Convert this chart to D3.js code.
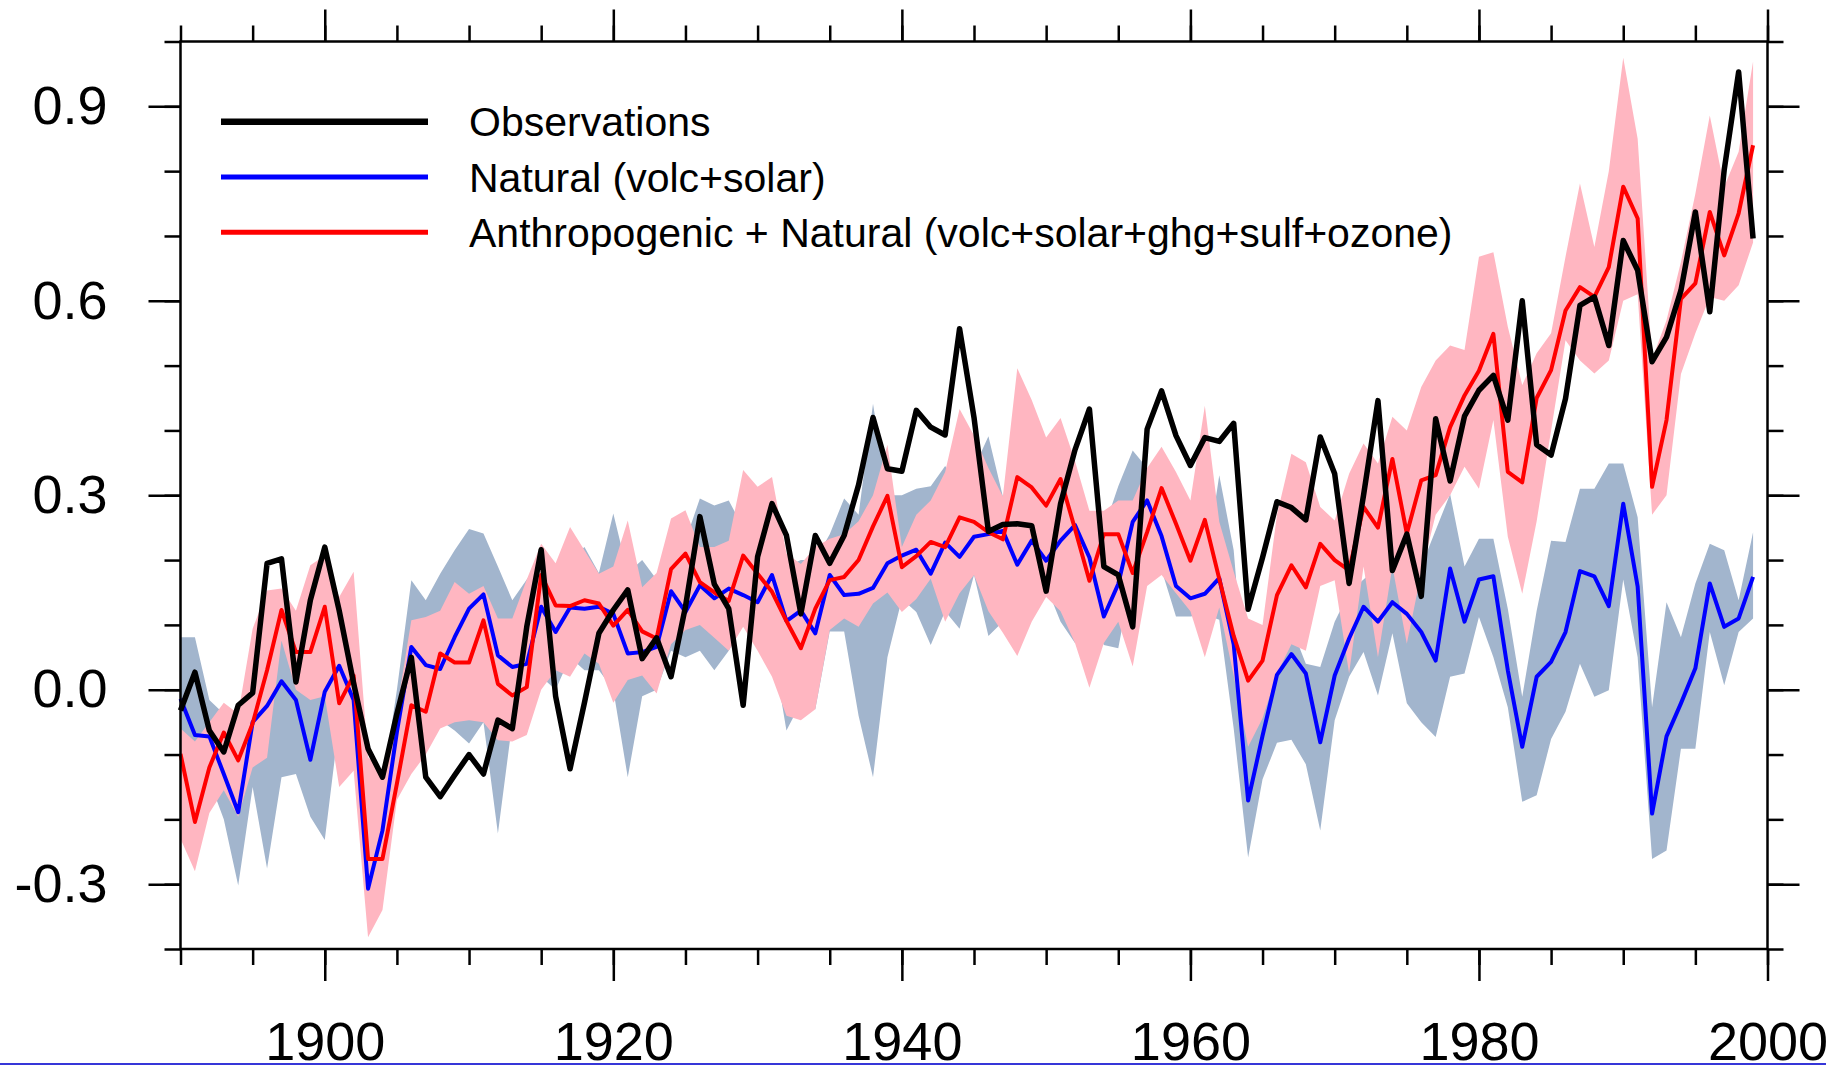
<!DOCTYPE html>
<html>
<head>
<meta charset="utf-8">
<script src="https://cdn.jsdelivr.net/npm/d3@7"></script>
<style>
  html, body { margin: 0; padding: 0; background: #fff; overflow: hidden; }
  svg { display: block; font-family: "Liberation Sans", Arial, Helvetica, sans-serif; }
</style>
</head>
<body>
<svg id="chart" width="1826" height="1065"></svg>
<script>
// annual global mean temperature anomalies, 1890-1999
var firstYear = 1890;

var obs = [
  -0.032, 0.027, -0.063, -0.096, -0.024, -0.005, 0.195, 0.202, 0.012, 0.138,
  0.220, 0.122, 0.010, -0.091, -0.135, -0.037, 0.050, -0.135, -0.165, -0.132,
  -0.100, -0.130, -0.047, -0.060, 0.097, 0.216, -0.010, -0.122, -0.020, 0.087,
  0.123, 0.154, 0.048, 0.080, 0.020, 0.128, 0.267, 0.163, 0.125, -0.024,
  0.205, 0.287, 0.238, 0.117, 0.238, 0.195, 0.238, 0.316, 0.420, 0.341,
  0.337, 0.431, 0.405, 0.393, 0.557, 0.420, 0.244, 0.255, 0.256, 0.253,
  0.152, 0.287, 0.370, 0.433, 0.190, 0.177, 0.097, 0.402, 0.461, 0.392,
  0.346, 0.389, 0.383, 0.411, 0.124, 0.204, 0.290, 0.281, 0.262, 0.390,
  0.333, 0.164, 0.300, 0.446, 0.184, 0.240, 0.144, 0.418, 0.322, 0.422,
  0.462, 0.485, 0.416, 0.600, 0.378, 0.362, 0.449, 0.593, 0.606, 0.531,
  0.693, 0.647, 0.506, 0.544, 0.616, 0.737, 0.583, 0.802, 0.953, 0.696
];

// natural forcing (volc+solar): ensemble mean and range
var natural = [
  -0.014, -0.070, -0.072, -0.130, -0.189, -0.050, -0.025, 0.013, -0.016, -0.108,
  -0.003, 0.037, -0.016, -0.307, -0.217, -0.065, 0.066, 0.038, 0.032, 0.081,
  0.125, 0.147, 0.053, 0.035, 0.040, 0.128, 0.089, 0.127, 0.125, 0.128,
  0.117, 0.056, 0.058, 0.066, 0.152, 0.120, 0.161, 0.141, 0.156, 0.146,
  0.135, 0.177, 0.106, 0.122, 0.087, 0.177, 0.146, 0.148, 0.157, 0.195,
  0.207, 0.216, 0.179, 0.227, 0.205, 0.236, 0.240, 0.245, 0.193, 0.230,
  0.199, 0.230, 0.254, 0.204, 0.113, 0.163, 0.259, 0.292, 0.237, 0.160,
  0.141, 0.148, 0.172, 0.070, -0.171, -0.071, 0.023, 0.055, 0.025, -0.081,
  0.022, 0.079, 0.128, 0.105, 0.135, 0.117, 0.089, 0.045, 0.187, 0.105,
  0.170, 0.175, 0.030, -0.088, 0.020, 0.043, 0.089, 0.183, 0.175, 0.129,
  0.287, 0.159, -0.191, -0.072, -0.021, 0.033, 0.164, 0.097, 0.110, 0.174
];
var natHi = [
  0.081, 0.081, -0.016, -0.037, -0.090, -0.020, 0.030, 0.076, 0.050, 0.000,
  0.050, 0.100, 0.050, -0.220, -0.150, 0.000, 0.169, 0.138, 0.179, 0.215,
  0.248, 0.241, 0.190, 0.138, 0.170, 0.200, 0.192, 0.200, 0.220, 0.180,
  0.272, 0.180, 0.200, 0.170, 0.200, 0.230, 0.295, 0.284, 0.292, 0.250,
  0.250, 0.230, 0.190, 0.200, 0.200, 0.240, 0.295, 0.270, 0.441, 0.300,
  0.300, 0.310, 0.314, 0.345, 0.314, 0.342, 0.391, 0.298, 0.336, 0.292,
  0.259, 0.292, 0.270, 0.259, 0.248, 0.314, 0.369, 0.342, 0.336, 0.259,
  0.215, 0.182, 0.331, 0.215, -0.050, 0.050, 0.060, 0.097, 0.040, 0.035,
  0.105, 0.150, 0.170, 0.190, 0.190, 0.190, 0.190, 0.246, 0.302, 0.190,
  0.233, 0.233, 0.125, -0.011, 0.122, 0.230, 0.228, 0.310, 0.310, 0.349,
  0.349, 0.266, -0.027, 0.135, 0.081, 0.164, 0.225, 0.215, 0.138, 0.243
];
var natLo = [
  -0.100, -0.120, -0.140, -0.200, -0.302, -0.150, -0.276, -0.135, -0.130, -0.196,
  -0.232, -0.050, -0.080, -0.320, -0.280, -0.140, -0.020, -0.058, -0.047, -0.063,
  -0.083, -0.050, -0.222, -0.050, -0.068, 0.020, 0.000, 0.050, 0.030, 0.030,
  0.000, -0.135, -0.010, 0.000, 0.060, 0.050, 0.060, 0.030, 0.060, 0.100,
  0.090, 0.070, -0.063, -0.020, -0.030, 0.090, 0.090, -0.040, -0.135, 0.050,
  0.140, 0.120, 0.069, 0.121, 0.094, 0.177, 0.083, 0.105, 0.127, 0.132,
  0.160, 0.105, 0.072, 0.116, 0.069, 0.064, 0.182, 0.179, 0.185, 0.113,
  0.113, 0.116, 0.108, -0.060, -0.259, -0.138, -0.082, -0.077, -0.115, -0.217,
  -0.047, 0.020, 0.058, -0.009, 0.087, -0.021, -0.050, -0.073, 0.020, 0.025,
  0.112, 0.050, -0.027, -0.173, -0.163, -0.076, -0.034, 0.040, -0.011, -0.001,
  0.170, 0.050, -0.261, -0.248, -0.091, -0.091, 0.089, 0.007, 0.089, 0.110
];

// anthropogenic + natural forcing: ensemble mean and range
var anthro = [
  -0.099, -0.204, -0.120, -0.066, -0.109, -0.052, 0.030, 0.123, 0.058, 0.058,
  0.128, -0.021, 0.022, -0.261, -0.261, -0.145, -0.024, -0.034, 0.056, 0.042,
  0.042, 0.107, 0.009, -0.009, 0.004, 0.177, 0.130, 0.129, 0.138, 0.133,
  0.099, 0.123, 0.090, 0.079, 0.186, 0.210, 0.166, 0.150, 0.137, 0.207,
  0.179, 0.151, 0.106, 0.064, 0.125, 0.169, 0.174, 0.200, 0.252, 0.299,
  0.189, 0.206, 0.228, 0.220, 0.266, 0.259, 0.243, 0.232, 0.328, 0.312,
  0.284, 0.325, 0.248, 0.168, 0.240, 0.240, 0.180, 0.243, 0.311, 0.256,
  0.199, 0.262, 0.171, 0.083, 0.014, 0.045, 0.146, 0.192, 0.158, 0.225,
  0.200, 0.184, 0.282, 0.250, 0.356, 0.241, 0.323, 0.331, 0.405, 0.454,
  0.492, 0.549, 0.336, 0.320, 0.450, 0.493, 0.585, 0.621, 0.606, 0.652,
  0.776, 0.727, 0.313, 0.416, 0.603, 0.627, 0.737, 0.670, 0.735, 0.840
];
var antHi = [
  -0.060, -0.080, -0.050, -0.020, -0.037, 0.094, 0.153, 0.156, 0.122, 0.192,
  0.207, 0.143, 0.182, -0.104, -0.124, -0.030, 0.107, 0.112, 0.122, 0.166,
  0.148, 0.160, 0.110, 0.110, 0.170, 0.225, 0.195, 0.251, 0.215, 0.179,
  0.190, 0.261, 0.158, 0.180, 0.264, 0.277, 0.220, 0.220, 0.230, 0.339,
  0.313, 0.328, 0.210, 0.194, 0.220, 0.233, 0.240, 0.260, 0.300, 0.378,
  0.220, 0.270, 0.292, 0.336, 0.433, 0.392, 0.342, 0.298, 0.496, 0.447,
  0.389, 0.419, 0.353, 0.276, 0.276, 0.292, 0.292, 0.342, 0.375, 0.336,
  0.292, 0.438, 0.259, 0.182, 0.110, 0.100, 0.270, 0.364, 0.351, 0.282,
  0.261, 0.333, 0.380, 0.349, 0.421, 0.400, 0.467, 0.508, 0.531, 0.524,
  0.668, 0.675, 0.560, 0.470, 0.519, 0.550, 0.668, 0.781, 0.683, 0.800,
  0.975, 0.850, 0.510, 0.570, 0.660, 0.765, 0.886, 0.776, 0.830, 0.969
];
var antLo = [
  -0.230, -0.280, -0.190, -0.155, -0.196, -0.120, -0.105, 0.076, 0.000, -0.016,
  -0.010, -0.150, -0.125, -0.382, -0.340, -0.170, -0.130, -0.100, -0.060, -0.050,
  -0.047, -0.050, -0.078, -0.080, -0.070, 0.000, 0.030, 0.020, 0.056, 0.040,
  -0.020, 0.015, 0.022, -0.006, 0.070, 0.092, 0.100, 0.080, 0.060, 0.097,
  0.060, 0.020, -0.040, -0.047, -0.030, 0.092, 0.110, 0.097, 0.133, 0.150,
  0.120, 0.140, 0.171, 0.105, 0.149, 0.177, 0.121, 0.088, 0.052, 0.105,
  0.143, 0.121, 0.072, 0.003, 0.072, 0.105, 0.036, 0.160, 0.177, 0.149,
  0.121, 0.050, 0.127, 0.022, -0.088, -0.044, 0.025, 0.070, 0.060, 0.160,
  0.169, 0.025, 0.190, 0.050, 0.190, 0.071, 0.180, 0.270, 0.300, 0.344,
  0.310, 0.416, 0.236, 0.148, 0.260, 0.400, 0.539, 0.508, 0.488, 0.508,
  0.600, 0.610, 0.270, 0.300, 0.487, 0.550, 0.606, 0.600, 0.624, 0.690
];

var years = obs.map(function(d, i) { return firstYear + i; });

var legendLabels = [
  "Observations",
  "Natural (volc+solar)",
  "Anthropogenic + Natural (volc+solar+ghg+sulf+ozone)"
];

var xMajor = [1900, 1920, 1940, 1960, 1980, 2000];
var xMinor = [1890, 1895, 1900, 1905, 1910, 1915, 1920, 1925, 1930, 1935, 1940, 1945,
              1950, 1955, 1960, 1965, 1970, 1975, 1980, 1985, 1990, 1995, 2000];
var yMajor = [-0.3, 0.0, 0.3, 0.6, 0.9];
var yMinor = [-0.4, -0.3, -0.2, -0.1, 0.0, 0.1, 0.2, 0.3, 0.4, 0.5, 0.6, 0.7, 0.8, 0.9, 1.0];

var margin = {top: 41.5, right: 58.5, bottom: 116, left: 180.5},
    width = 1826,
    height = 1065;

var svg = d3.select("#chart");

var x = d3.scaleLinear()
    .domain([1890, 2000])
    .range([margin.left, width - margin.right]);

var y = d3.scaleLinear()
    .domain([-0.4, 1.0])
    .range([height - margin.bottom, margin.top]);

// spread bands, grey below pink
var natArea = d3.area()
    .x(function(d, i) { return x(years[i]); })
    .y0(function(d, i) { return y(natLo[i]); })
    .y1(function(d, i) { return y(natHi[i]); });

var antArea = d3.area()
    .x(function(d, i) { return x(years[i]); })
    .y0(function(d, i) { return y(antLo[i]); })
    .y1(function(d, i) { return y(antHi[i]); });

svg.append("path")
    .datum(natHi)
    .attr("d", natArea)
    .attr("fill", "#a2b5cd");

svg.append("path")
    .datum(antHi)
    .attr("d", antArea)
    .attr("fill", "#ffb6c1");

var line = d3.line()
    .x(function(d, i) { return x(years[i]); })
    .y(function(d) { return y(d); });

var series = [
  { values: obs, color: "#000000", width: 5.5, key: 6.5 },
  { values: natural, color: "#0000ff", width: 4, key: 5 },
  { values: anthro, color: "#ff0000", width: 4, key: 5 }
];

// draw black last so it sits on top
[series[1], series[2], series[0]].forEach(function(s) {
  svg.append("path")
      .datum(s.values)
      .attr("d", line)
      .attr("fill", "none")
      .attr("stroke", s.color)
      .attr("stroke-width", s.width)
      .attr("stroke-linejoin", "round");
});

// frame
svg.append("rect")
    .attr("x", x(1890))
    .attr("y", y(1.0))
    .attr("width", x(2000) - x(1890))
    .attr("height", y(-0.4) - y(1.0))
    .attr("fill", "none")
    .attr("stroke", "#000")
    .attr("stroke-width", 2.5);

function drawAxis(axis, tx, ty) {
  var g = svg.append("g")
      .attr("transform", "translate(" + tx + "," + ty + ")")
      .call(axis);
  g.select(".domain").remove();
  g.selectAll(".tick line")
      .attr("stroke", "#000")
      .attr("stroke-width", 2.5);
  g.attr("font-family", null).attr("font-size", null);
  g.selectAll(".tick text")
      .attr("fill", "#000")
      .style("font-size", "54px");
  return g;
}

var fmtY = function(d) { return d.toFixed(1); };
var fmtX = d3.format("d");

// left
drawAxis(d3.axisLeft(y).tickValues(yMinor).tickSize(16).tickFormat(""), x(1890), 0);
drawAxis(d3.axisLeft(y).tickValues(yMajor).tickSize(32).tickPadding(41).tickFormat(fmtY), x(1890), 0);
// right
drawAxis(d3.axisRight(y).tickValues(yMinor).tickSize(16).tickFormat(""), x(2000), 0);
drawAxis(d3.axisRight(y).tickValues(yMajor).tickSize(32).tickFormat(""), x(2000), 0);
// bottom
drawAxis(d3.axisBottom(x).tickValues(xMinor).tickSize(16).tickFormat(""), 0, y(-0.4));
drawAxis(d3.axisBottom(x).tickValues(xMajor).tickSize(32).tickPadding(41).tickFormat(fmtX), 0, y(-0.4));
// top
drawAxis(d3.axisTop(x).tickValues(xMinor).tickSize(16).tickFormat(""), 0, y(1.0));
drawAxis(d3.axisTop(x).tickValues(xMajor).tickSize(32).tickFormat(""), 0, y(1.0));

// legend
var legend = svg.append("g")
    .attr("transform", "translate(221,121.7)");

var items = legend.selectAll("g.item")
    .data(series)
    .enter().append("g")
    .attr("class", "item")
    .attr("transform", function(d, i) { return "translate(0," + i * 55.3 + ")"; });

items.append("line")
    .attr("x1", 0)
    .attr("x2", 207)
    .attr("stroke", function(d) { return d.color; })
    .attr("stroke-width", function(d) { return d.key; });

items.append("text")
    .attr("x", 248)
    .attr("dy", "0.36em")
    .style("font-size", "41px")
    .attr("fill", "#000")
    .text(function(d, i) { return legendLabels[i]; });

// thin blue rule along the bottom edge of the picture
svg.append("rect")
    .attr("x", 0)
    .attr("y", height - 2)
    .attr("width", width)
    .attr("height", 2)
    .attr("fill", "#3636d8");
</script>
</body>
</html>
